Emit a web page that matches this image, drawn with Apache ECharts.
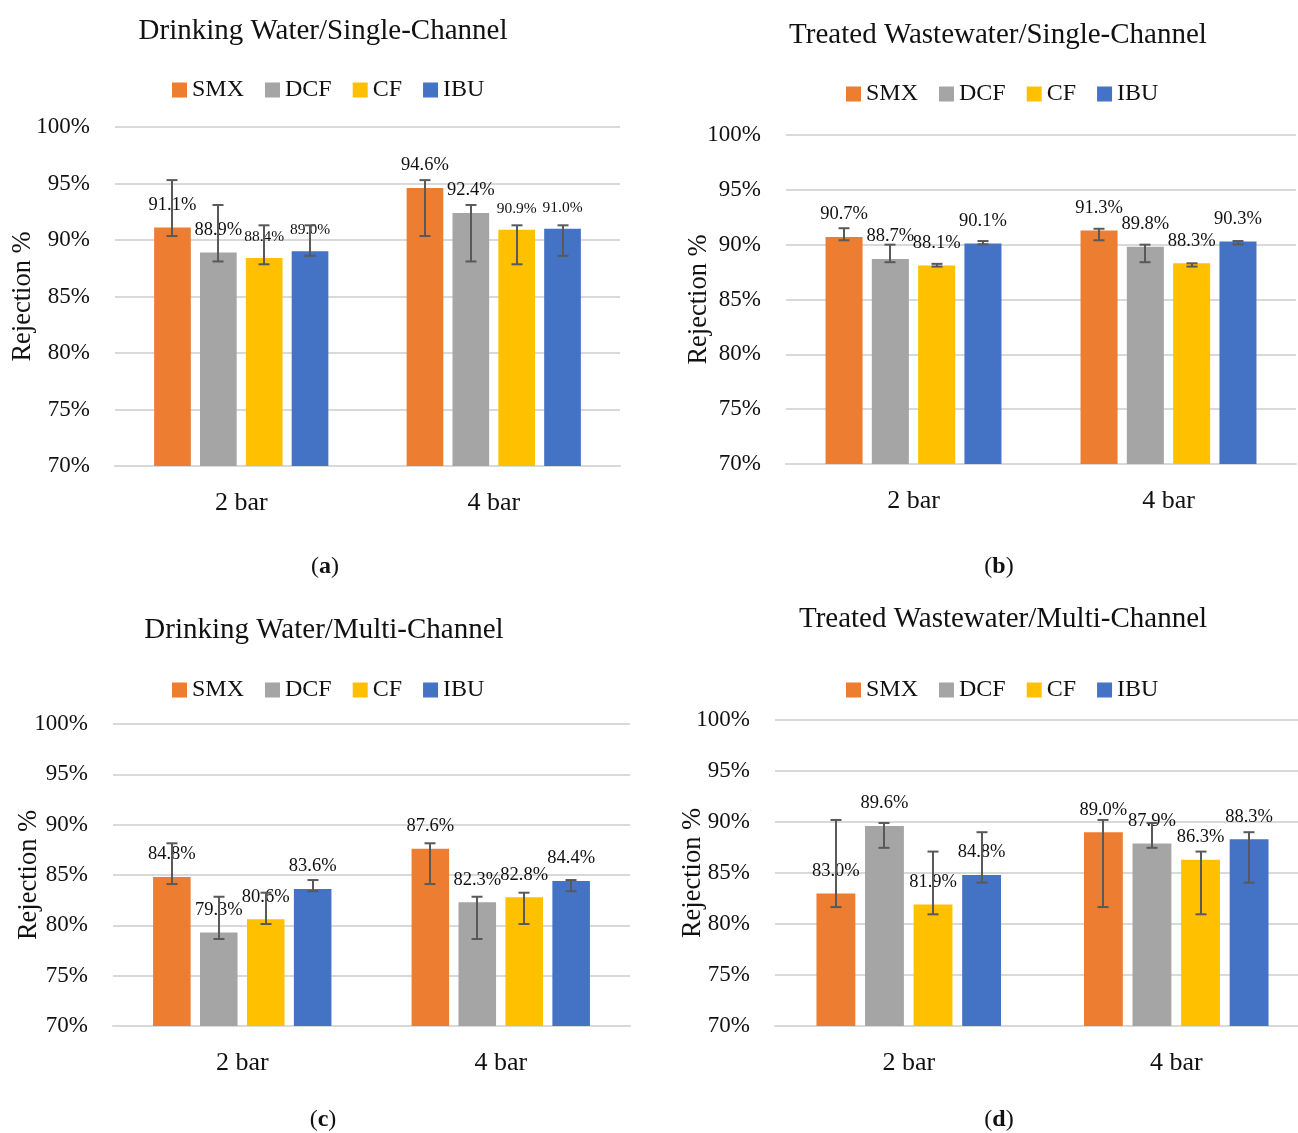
<!DOCTYPE html>
<html>
<head>
<meta charset="utf-8">
<script src="https://cdn.jsdelivr.net/npm/echarts@6/dist/echarts.min.js"></script>
<style>
html,body{margin:0;padding:0;background:#fff;overflow:hidden;}
#chart{width:1320px;height:1133px;}
</style>
</head>
<body>
<div id="chart"></div>
<script>
// ---------- data ----------
const categories = ['2 bar', '4 bar'];
const seriesNames = ['SMX', 'DCF', 'CF', 'IBU'];
const yTicks = [70, 75, 80, 85, 90, 95, 100];

// Panel (a) Drinking Water / Single-Channel
const aSMX = [91.1, 94.6];
const aDCF = [88.9, 92.4];
const aCF  = [88.4, 90.9];
const aIBU = [89.0, 91.0];
const aErrLow  = { SMX: [90.35, 90.35], DCF: [88.1, 88.1], CF: [87.85, 87.85], IBU: [88.6, 88.6] };
const aErrHigh = { SMX: [95.3, 95.3],   DCF: [93.1, 93.1], CF: [91.3, 91.3],   IBU: [91.3, 91.3] };

// Panel (b) Treated Wastewater / Single-Channel
const bSMX = [90.7, 91.3];
const bDCF = [88.7, 89.8];
const bCF  = [88.1, 88.3];
const bIBU = [90.1, 90.3];
const bErrLow  = { SMX: [90.4, 90.4], DCF: [88.4, 88.4], CF: [88.0, 88.0],   IBU: [90.03, 90.03] };
const bErrHigh = { SMX: [91.5, 91.45], DCF: [90.0, 90.0], CF: [88.25, 88.3], IBU: [90.33, 90.33] };

// Panel (c) Drinking Water / Multi-Channel
const cSMX = [84.8, 87.6];
const cDCF = [79.3, 82.3];
const cCF  = [80.6, 82.8];
const cIBU = [83.6, 84.4];
const cErrLow  = { SMX: [84.1, 84.1],   DCF: [78.64, 78.64], CF: [80.13, 80.13], IBU: [83.4, 83.4] };
const cErrHigh = { SMX: [88.15, 88.15], DCF: [82.84, 82.84], CF: [83.24, 83.24], IBU: [84.5, 84.5] };

// Panel (d) Treated Wastewater / Multi-Channel
const dSMX = [83.0, 89.0];
const dDCF = [89.6, 87.9];
const dCF  = [81.9, 86.3];
const dIBU = [84.8, 88.3];
const dErrLow  = { SMX: [81.66, 81.66], DCF: [87.47, 87.47], CF: [80.95, 80.95], IBU: [84.05, 84.05] };
const dErrHigh = { SMX: [90.2, 90.2],   DCF: [89.9, 89.9],   CF: [87.1, 87.1],   IBU: [89.0, 89.0] };

const panelTitles = ['Drinking Water/Single-Channel', 'Treated Wastewater/Single-Channel',
                     'Drinking Water/Multi-Channel', 'Treated Wastewater/Multi-Channel'];
const panelLetters = ['a', 'b', 'c', 'd'];

// ---------- style / layout ----------
const colors = { SMX: '#ED7D31', DCF: '#A5A5A5', CF: '#FFC000', IBU: '#4472C4' };
const FONT = '"Liberation Serif", "DejaVu Serif", serif';
const TXT = '#111111';
const CAT_GAP = 0.31, BAR_GAP = 0.25;

const panels = [
  { values: [aSMX, aDCF, aCF, aIBU], lo: aErrLow, hi: aErrHigh, labelSizes: [18.5, 18.5, 15.5, 15.5],
    grid: { left: 115, top: 127, width: 505, height: 339 }, nameGap: 78,
    title: [323, 31], legend: [172, 90], letter: [325, 567] },
  { values: [bSMX, bDCF, bCF, bIBU], lo: bErrLow, hi: bErrHigh, labelSizes: [18.5, 18.5, 18.5, 18.5],
    grid: { left: 786, top: 135, width: 510, height: 329 }, nameGap: 73,
    title: [998, 35], legend: [846, 94], letter: [999, 567] },
  { values: [cSMX, cDCF, cCF, cIBU], lo: cErrLow, hi: cErrHigh, labelSizes: [18.5, 18.5, 18.5, 18.5],
    grid: { left: 113, top: 724, width: 517, height: 302 }, nameGap: 70,
    title: [324, 630], legend: [172, 690], letter: [323, 1120] },
  { values: [dSMX, dDCF, dCF, dIBU], lo: dErrLow, hi: dErrHigh, labelSizes: [18.5, 18.5, 18.5, 18.5],
    grid: { left: 775, top: 720, width: 535, height: 306 }, nameGap: 68,
    title: [1003, 619], legend: [846, 690], letter: [999, 1120] }
];

function errRender(idx, n) {
  return function (params, api) {
    const cat = api.value(0), lo = api.value(1), hi = api.value(2);
    const band = api.size([1, 0])[0];
    const w = band * (1 - CAT_GAP) / (n + (n - 1) * BAR_GAP);
    const total = n * w + (n - 1) * BAR_GAP * w;
    const off = -total / 2 + idx * w * (1 + BAR_GAP) + w / 2;
    const pLo = api.coord([cat, lo]);
    const pHi = api.coord([cat, hi]);
    const x = Math.round(pLo[0] + off);
    const cap = 5.5;
    const st = { stroke: '#595959', lineWidth: 2 };
    return {
      type: 'group',
      children: [
        { type: 'line', shape: { x1: x, y1: pHi[1], x2: x, y2: pLo[1] }, style: st },
        { type: 'line', shape: { x1: x - cap, y1: pHi[1], x2: x + cap, y2: pHi[1] }, style: st },
        { type: 'line', shape: { x1: x - cap, y1: pLo[1], x2: x + cap, y2: pLo[1] }, style: st }
      ]
    };
  };
}

const grids = [], xAxes = [], yAxes = [], series = [], legends = [], graphics = [];
panels.forEach((p, pi) => {
  grids.push(Object.assign({ containLabel: false }, p.grid));
  xAxes.push({
    type: 'category', gridIndex: pi, data: categories,
    axisLine: { show: true, lineStyle: { color: '#D9D9D9', width: 2 } },
    axisTick: { show: false },
    axisLabel: { color: TXT, fontFamily: FONT, fontSize: 26, margin: 24 }
  });
  yAxes.push({
    type: 'value', gridIndex: pi, min: yTicks[0], max: yTicks[yTicks.length - 1], interval: 5,
    name: 'Rejection %', nameLocation: 'middle', nameRotate: 90, nameGap: p.nameGap,
    nameMoveOverlap: false,
    nameTextStyle: { color: TXT, fontFamily: FONT, fontSize: 26.5 },
    axisLine: { show: false }, axisTick: { show: false },
    splitLine: { lineStyle: { color: '#D9D9D9', width: 2 } },
    axisLabel: { color: TXT, fontFamily: FONT, fontSize: 23, margin: 25, formatter: '{value}%' }
  });
  seriesNames.forEach((nm, si) => {
    series.push({
      name: nm, type: 'bar', xAxisIndex: pi, yAxisIndex: pi,
      data: p.values[si],
      barGap: (BAR_GAP * 100) + '%', barCategoryGap: (CAT_GAP * 100) + '%',
      itemStyle: { color: colors[nm] },
      label: {
        show: true, position: 'top', distance: 13,
        color: TXT, fontFamily: FONT, fontSize: p.labelSizes[si],
        formatter: (d) => d.value.toFixed(1) + '%'
      },
      z: 2
    });
  });
  seriesNames.forEach((nm, si) => {
    series.push({
      type: 'custom', xAxisIndex: pi, yAxisIndex: pi, silent: true, z: 5,
      renderItem: errRender(si, seriesNames.length),
      encode: { x: 0, y: [1, 2] },
      data: categories.map((c, ci) => [ci, p.lo[nm][ci], p.hi[nm][ci]])
    });
  });
  legends.push({
    data: seriesNames, left: p.legend[0], top: p.legend[1] - 12,
    orient: 'horizontal', icon: 'rect', itemWidth: 15, itemHeight: 15, itemGap: 21,
    padding: 0, selectedMode: false,
    textStyle: { color: TXT, fontFamily: FONT, fontSize: 24 }
  });
  graphics.push({
    type: 'text', x: p.title[0], y: p.title[1],
    style: { text: panelTitles[pi], font: '29px ' + FONT, fill: TXT, textAlign: 'center', textVerticalAlign: 'middle' }
  });
  graphics.push({
    type: 'text', x: p.letter[0], y: p.letter[1],
    style: {
      text: '({l|' + panelLetters[pi] + '})', font: '24px ' + FONT, fill: TXT,
      textAlign: 'center', textVerticalAlign: 'middle',
      rich: { l: { fontFamily: FONT, fontSize: 24, fontWeight: 'bold', fill: TXT } }
    }
  });
});

const chart = echarts.init(document.getElementById('chart'), null, { renderer: 'canvas' });
chart.setOption({
  backgroundColor: '#ffffff',
  animation: false,
  color: seriesNames.map(n => colors[n]),
  grid: grids, xAxis: xAxes, yAxis: yAxes,
  legend: legends, series: series, graphic: graphics
});
</script>
</body>
</html>
